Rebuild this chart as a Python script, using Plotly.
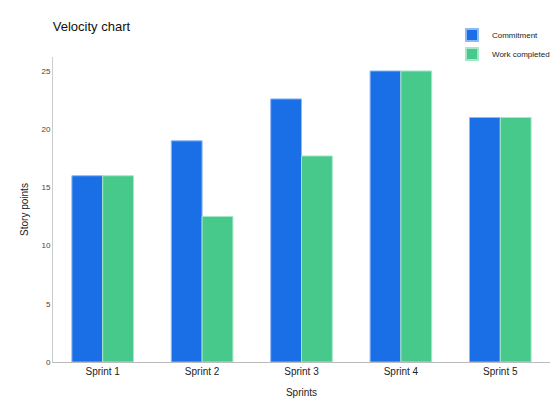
import plotly.graph_objects as go

sprints = ["Sprint 1", "Sprint 2", "Sprint 3", "Sprint 4", "Sprint 5"]
commitment = [16, 19, 22.6, 25, 21]
completed = [16, 12.5, 17.7, 25, 21]

fig = go.Figure()
fig.add_trace(go.Bar(x=sprints, y=commitment, name="Commitment",
                     marker=dict(color="#1a6fe6", line=dict(color="#8fb8f5", width=1))))
fig.add_trace(go.Bar(x=sprints, y=completed, name="Work completed",
                     marker=dict(color="#47c98c", line=dict(color="#a5e8c8", width=1))))

fig.update_layout(
    width=560, height=409,
    margin=dict(l=45, r=18, t=40, b=55),
    paper_bgcolor="white", plot_bgcolor="white",
    font=dict(family="Liberation Sans, Arial", size=10, color="#222"),
    title=dict(text="Velocity chart", x=0.08, xanchor="left", y=0.965,
               font=dict(size=13, color="#111")),
    barmode="group", bargap=0.38, bargroupgap=0,
    legend=dict(x=1.01, xanchor="right", y=1.12, yanchor="top",
                font=dict(size=8), itemsizing="constant", tracegroupgap=2),
    xaxis=dict(title=dict(text="Sprints", font=dict(size=10), standoff=12),
               showline=True, linecolor="#bbb", ticks="", tickfont=dict(size=10)),
    yaxis=dict(title=dict(text="Story points", font=dict(size=10), standoff=10),
               range=[0, 26.2], dtick=5, showgrid=False, showline=True,
               linecolor="#ccc", ticks="", tickfont=dict(size=8, color="#444"),
               zeroline=False),
)

fig.write_html("out.html")
